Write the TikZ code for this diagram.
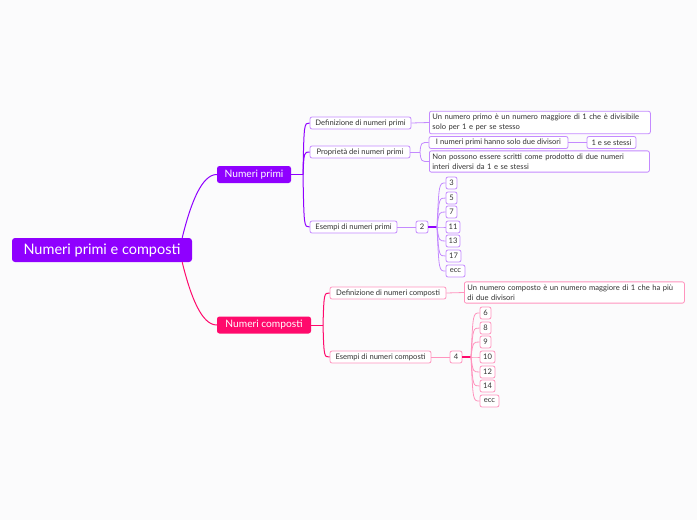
\documentclass[tikz,border=0pt]{standalone}
\usepackage{fontspec}
\setmainfont{Lato}
\definecolor{purp}{HTML}{8F00FF}
\definecolor{lpurp}{HTML}{C48AFF}
\definecolor{pinkc}{HTML}{FF0A6C}
\definecolor{lpink}{HTML}{FF94BE}
\definecolor{bgc}{HTML}{FBFBFC}
\definecolor{txt}{HTML}{333333}
\tikzset{
  rootbox/.style={fill=purp, text=white, rounded corners=3pt, minimum width=180pt, minimum height=24pt, inner sep=0pt, font=\fontsize{14.5}{16}\selectfont},
  lonebox/.style={text=white, rounded corners=2.5pt, minimum height=17pt, inner sep=0pt, font=\fontsize{10.2}{12}\selectfont},
  leafp/.style={draw=lpurp, fill=white, text=txt, rounded corners=2pt, line width=0.8pt, minimum height=12pt, inner sep=0pt, font=\fontsize{7.6}{9}\selectfont},
  leafk/.style={leafp, draw=lpink},
  multi/.style={align=left, text width=#1, inner sep=3pt, anchor=west, font=\fontsize{7.6}{9.6}\selectfont},
  conp/.style={draw=purp, line width=1pt},
  conlp/.style={draw=lpurp, line width=0.8pt},
  conk/.style={draw=pinkc, line width=1pt},
  conlk/.style={draw=lpink, line width=0.8pt},
}
\begin{document}
\begin{tikzpicture}[x=1pt, y=-1pt]
\fill[bgc] (0,0) rectangle (697,520);
\useasboundingbox (0,0) rectangle (697,520);

% root and level 1
\node[rootbox] (root) at (102,250) {Numeri primi e composti};
\node[lonebox, fill=purp, minimum width=74pt] (np) at (254,174.5) {Numeri primi};
\node[lonebox, fill=pinkc, minimum width=94pt] (nc) at (264,325) {Numeri composti};

\draw[conp] ([xshift=-10pt]root.north east) .. controls (191,202) and (202,174.5) .. (np.west);
\draw[conk] ([xshift=-10pt]root.south east) .. controls (191,298) and (202,325) .. (nc.west);

% primi level 2
\node[leafp, minimum width=101pt] (defp) at (360.5,123) {Definizione di numeri primi};
\node[leafp, minimum width=100pt] (prop) at (360,152) {Proprietà dei numeri primi};
\node[leafp, minimum width=87pt] (esp) at (353.5,227) {Esempi di numeri primi};

\coordinate (jp) at (303,174.5);
\draw[conp] (np.east) -- (jp);
\draw[conp] (jp) .. controls (304,123) .. (defp.west);
\draw[conp] (jp) .. controls (304,152) .. (prop.west);
\draw[conp] (jp) .. controls (304,227) .. (esp.west);

% primi level 3
\node[leafp, multi=215pt] (defpt) at (429,122.5) {Un numero primo è un numero maggiore di 1 che è divisibile\\solo per 1 e per se stesso};
\node[leafp, minimum width=139pt] (due) at (498.5,142.5) {I numeri primi hanno solo due divisori};
\node[leafp, minimum width=49pt] (sest) at (611.5,142.5) {1 e se stessi};
\node[leafp, multi=214pt] (nonp) at (429,161.5) {Non possono essere scritti come prodotto di due numeri\\interi diversi da 1 e se stessi};
\node[leafp, minimum width=12pt] (two) at (422,227) {2};

\draw[conlp] (defp.east) -- (defpt.west);
\coordinate (jpr) at (420,152);
\draw[conlp] (prop.east) -- (jpr);
\draw[conlp] (jpr) .. controls (421,142.5) .. (due.west);
\draw[conlp] (jpr) .. controls (421,161.5) .. (nonp.west);
\draw[conlp] (due.east) -- (sest.west);
\draw[conlp] (esp.east) -- (two.west);

% primi numbers
\node[leafp, minimum width=11pt] (p3) at (451.5,183) {3};
\node[leafp, minimum width=11pt] (p5) at (451.5,198) {5};
\node[leafp, minimum width=11pt] (p7) at (451.5,212) {7};
\node[leafp, minimum width=14pt] (p11) at (453,227) {11};
\node[leafp, minimum width=14pt] (p13) at (453,241) {13};
\node[leafp, minimum width=15pt] (p17) at (453.5,256) {17};
\node[leafp, minimum width=19pt] (pecc) at (455.5,271) {ecc};

\coordinate (j2) at (437,227);
\draw[purp, line width=1.8pt] (two.east) -- (j2);
\foreach \n/\y in {p3/183,p5/198,p7/212,p11/227,p13/241,p17/256,pecc/271}
  \draw[conlp] (j2) .. controls (439,\y) .. (\n.west);

% composti level 2
\node[leafk, minimum width=116pt] (defc) at (388,293) {Definizione di numeri composti};
\node[leafk, minimum width=101pt] (esc) at (380.5,357) {Esempi di numeri composti};

\coordinate (jc) at (323,325);
\draw[conk] (nc.east) -- (jc);
\draw[conk] (jc) .. controls (324,293) .. (defc.west);
\draw[conk] (jc) .. controls (324,357) .. (esc.west);

% composti level 3
\node[leafk, multi=214pt] (defct) at (464,292.5) {Un numero composto è un numero maggiore di 1 che ha più\\di due divisori};
\node[leafk, minimum width=12pt] (four) at (456,357) {4};
\draw[conlk] (defc.east) -- (defct.west);
\draw[conlk] (esc.east) -- (four.west);

\node[leafk, minimum width=11pt] (c6) at (485.5,313) {6};
\node[leafk, minimum width=11pt] (c8) at (485.5,328) {8};
\node[leafk, minimum width=11pt] (c9) at (485.5,342) {9};
\node[leafk, minimum width=15pt] (c10) at (487.5,357) {10};
\node[leafk, minimum width=15pt] (c12) at (487.5,372) {12};
\node[leafk, minimum width=15pt] (c14) at (487.5,386) {14};
\node[leafk, minimum width=19pt] (cecc) at (489.5,401) {ecc};

\coordinate (j4) at (471,357);
\draw[pinkc, line width=1.8pt] (four.east) -- (j4);
\foreach \n/\y in {c6/313,c8/328,c9/342,c10/357,c12/372,c14/386,cecc/401}
  \draw[conlk] (j4) .. controls (473,\y) .. (\n.west);
\end{tikzpicture}
\end{document}
